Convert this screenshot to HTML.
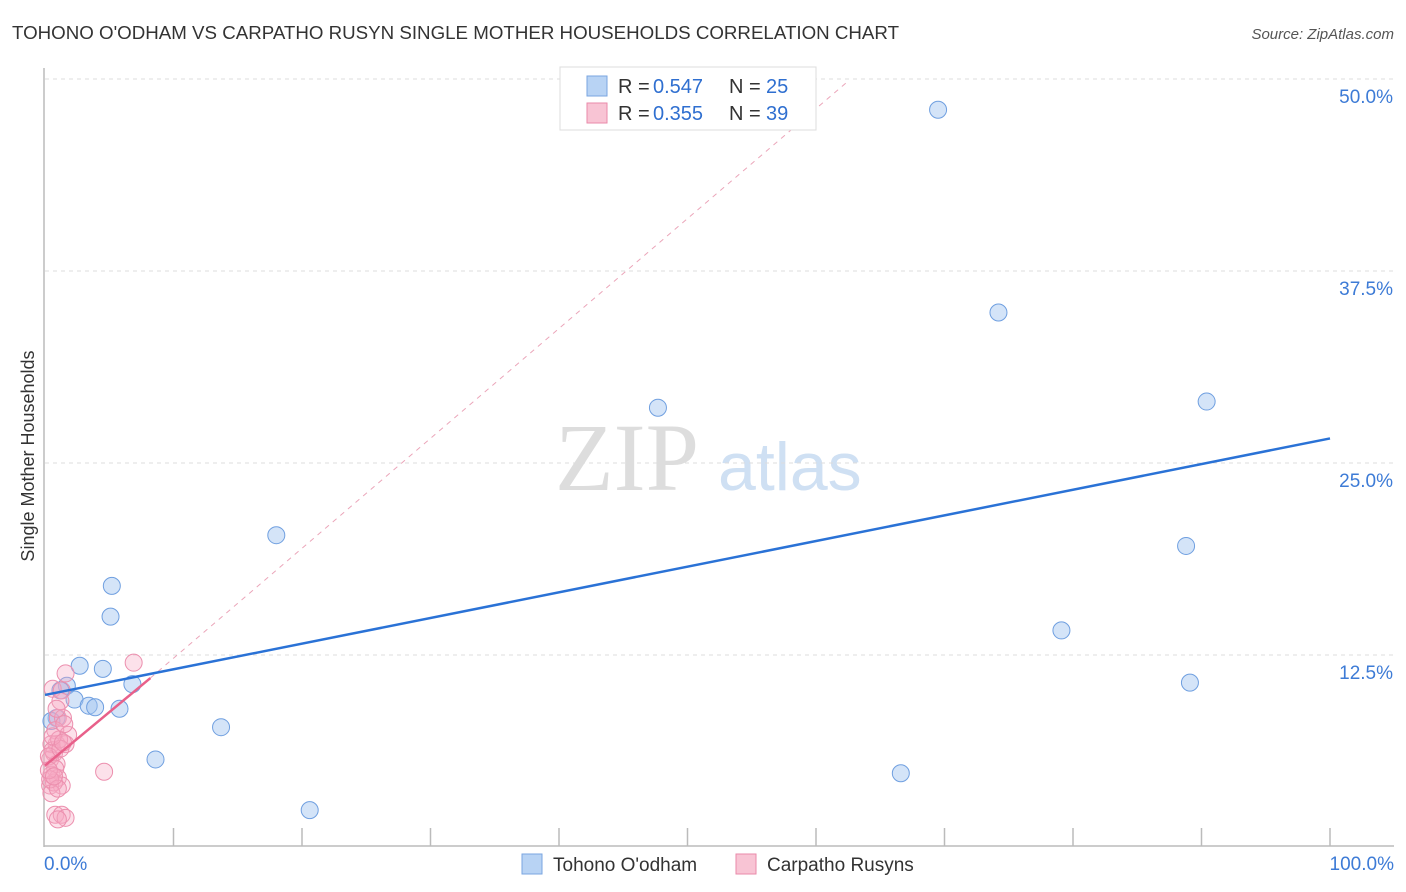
<!DOCTYPE html>
<html><head><meta charset="utf-8"><style>
body{margin:0;background:#fff;font-family:"Liberation Sans",sans-serif;}
#wrap{position:relative;width:1406px;height:892px;overflow:hidden;}
</style></head><body>
<div id="wrap">
<svg id="chart" width="1406" height="892" xmlns="http://www.w3.org/2000/svg">
<text x="12" y="39" font-size="18" fill="#333" textLength="887" lengthAdjust="spacingAndGlyphs">TOHONO O'ODHAM VS CARPATHO RUSYN SINGLE MOTHER HOUSEHOLDS CORRELATION CHART</text>
<text x="1394" y="39" font-size="15" fill="#555" text-anchor="end" font-style="italic">Source: ZipAtlas.com</text>
<text x="34" y="456" font-size="18" fill="#333" text-anchor="middle" transform="rotate(-90 34 456)">Single Mother Households</text>
<text x="555" y="490" font-size="96" fill="#ddd" font-family="Liberation Serif,serif">ZIP</text>
<text x="718" y="490" font-size="68" fill="#cfe0f3">atlas</text>
<g id="grid"></g><g id="marks"></g>
<g>
<rect x="560" y="67" width="256" height="63" fill="#fff" stroke="#ddd"/>
<rect x="587" y="76" width="20" height="20" fill="#b8d3f4" stroke="#7aa6e0"/>
<rect x="587" y="103" width="20" height="20" fill="#f8c4d4" stroke="#ea8aaa"/>
<text x="618" y="93" font-size="20" fill="#333">R =</text><text x="653" y="93" font-size="20" fill="#2f6fd0">0.547</text>
<text x="729" y="93" font-size="20" fill="#333">N =</text><text x="766" y="93" font-size="20" fill="#2f6fd0">25</text>
<text x="618" y="120" font-size="20" fill="#333">R =</text><text x="653" y="120" font-size="20" fill="#2f6fd0">0.355</text>
<text x="729" y="120" font-size="20" fill="#333">N =</text><text x="766" y="120" font-size="20" fill="#2f6fd0">39</text>
</g>
<g>
<rect x="522" y="854" width="20" height="20" fill="#b8d3f4" stroke="#7aa6e0"/>
<text x="553" y="871" font-size="19" fill="#333">Tohono O'odham</text>
<rect x="736" y="854" width="20" height="20" fill="#f8c4d4" stroke="#ea8aaa"/>
<text x="767" y="871" font-size="19" fill="#333">Carpatho Rusyns</text>
</g>
</svg>
</div>
<script>
const yTicks=[12.5,25,37.5,50];
const yTickLabels=["12.5%","25.0%","37.5%","50.0%"];
const xTickLabels=["0.0%","100.0%"];
const blueX=[69.5,74.2,47.7,90.4,18.0,88.8,5.2,5.1,79.1,2.7,4.5,1.7,6.8,89.1,2.3,3.4,3.9,5.8,0.9,13.7,8.6,66.6,20.6,1.2,0.5];
const blueY=[48.0,34.8,28.6,29.0,20.3,19.6,17.0,15.0,14.1,11.8,11.6,10.5,10.6,10.7,9.6,9.2,9.1,9.0,8.4,7.8,5.7,4.8,2.4,10.2,8.2];
const pinkX=[1.6,6.9,0.6,1.3,1.2,1.0,1.4,0.8,1.8,0.9,1.6,0.5,0.7,0.4,0.9,0.5,1.0,1.3,0.4,4.6,0.8,1.3,1.6,1.0,0.6,1.1,0.3,0.7,1.5,0.9,0.5,1.2,0.8,0.4,1.0,0.6,1.4,0.3,0.7];
const pinkY=[11.3,12.0,10.3,10.2,9.5,8.4,8.4,7.6,7.3,6.7,6.7,6.7,6.1,5.7,5.4,4.7,4.5,4.0,4.0,4.9,2.1,2.1,1.9,1.8,6.3,7.0,5.9,4.2,8.0,9.0,3.5,6.4,5.1,4.4,3.8,7.2,6.8,5.0,4.6];
const blueTrend=[0,9.9,100,26.6];
const pinkTrend=[0,5.3,8.2,11.0];
const X=v=>45+v*12.85, Y=v=>847-v*15.36;
const ns="http://www.w3.org/2000/svg";
const grid=document.getElementById('grid'), marks=document.getElementById('marks');
function mk(tag,at,parent){const e=document.createElementNS(ns,tag);for(const k in at)e.setAttribute(k,at[k]);parent.appendChild(e);return e;}
let ax=mk('line',{x1:44,y1:68,x2:44,y2:847,stroke:'#bbb','stroke-width':1.5},grid);


let xa=mk('line',{x1:44,y1:846,x2:1394,y2:846,stroke:'#bbb','stroke-width':1.5},grid);


yTicks.forEach((t,i)=>{
 let g=mk('line',{x1:45,x2:1394,y1:Y(t),y2:Y(t),stroke:'#ddd','stroke-dasharray':'4 4'},grid);
 
 
 let l=mk('text',{x:1393,y:Y(t)+24,'font-size':19,fill:'#3d7bd6','text-anchor':'end'},grid);l.textContent=yTickLabels[i];
 
 
});
for(let i=1;i<=10;i++){let t=mk('line',{x1:X(i*10),x2:X(i*10),y1:828,y2:846,stroke:'#bbb','stroke-width':1.5},grid);
 
 }
[[0,'start',44],[100,'end',1394]].forEach((d,i)=>{let l=mk('text',{x:d[2],y:870,'font-size':19,fill:'#3d7bd6','text-anchor':d[1]},grid);l.textContent=xTickLabels[i];
 
 });
const ps=(pinkTrend[3]-pinkTrend[1])/(pinkTrend[2]-pinkTrend[0]);
const xe=(49.9-pinkTrend[1])/ps;
let dl=mk('line',{x1:X(pinkTrend[2]),y1:Y(pinkTrend[3]),x2:X(xe*0.975),y2:Y(49.9),stroke:'#eba5b9','stroke-dasharray':'5 5'},marks);


blueX.forEach((x,i)=>{let c=mk('circle',{cx:X(x),cy:Y(blueY[i]),r:8.5,fill:'rgba(160,196,240,0.45)',stroke:'#6f9fe0','stroke-width':1},marks);
 
 });
pinkX.forEach((x,i)=>{let c=mk('circle',{cx:X(x),cy:Y(pinkY[i]),r:8.5,fill:'rgba(245,170,195,0.35)',stroke:'#ec8fae','stroke-width':1},marks);
 
 });
let bl=mk('line',{x1:X(blueTrend[0]),y1:Y(blueTrend[1]),x2:X(blueTrend[2]),y2:Y(blueTrend[3]),stroke:'#2a72d6','stroke-width':2.5},marks);


let pl=mk('line',{x1:X(pinkTrend[0]),y1:Y(pinkTrend[1]),x2:X(pinkTrend[2]),y2:Y(pinkTrend[3]),stroke:'#e8608a','stroke-width':2.5},marks);


</script>
</body></html>
